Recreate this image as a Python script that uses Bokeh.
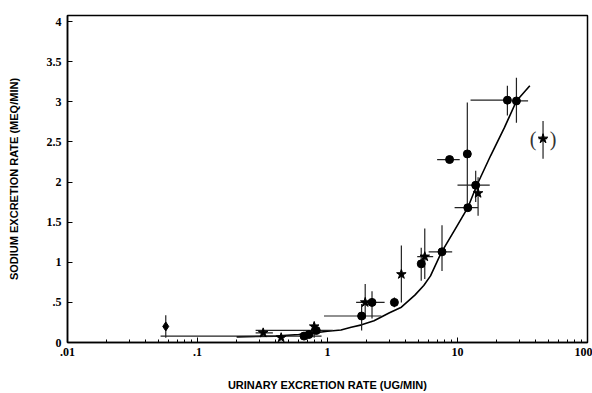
import numpy as np
from bokeh.plotting import figure
from bokeh.models import ColumnDataSource, FixedTicker, Range1d
from bokeh.core.properties import value
from bokeh.embed import file_html
from bokeh.resources import INLINE

# ---- data ----
pt_x = [0.057, 0.32, 0.44, 0.66, 0.72, 0.79, 0.82, 1.83, 1.95, 2.2, 3.27, 3.7,
        5.26, 5.6, 7.6, 8.69, 11.9, 12.0, 13.8, 14.4, 24.2, 28.4, 45.5]
pt_y = [0.20, 0.12, 0.06, 0.08, 0.10, 0.20, 0.15, 0.33, 0.50, 0.50, 0.50, 0.85,
        0.98, 1.07, 1.13, 2.28, 2.35, 1.68, 1.96, 1.86, 3.02, 3.01, 2.54]
pt_marker = ["diamond", "star", "star", "circle", "circle", "star", "circle", "circle",
             "star", "circle", "circle", "star", "circle", "star", "circle", "circle",
             "circle", "circle", "circle", "star", "circle", "circle", "star"]
nan = float("nan")
x_lo = [nan, 0.28, nan, 0.052, nan, nan, 0.28, 0.94, 1.66, 2.0, nan, nan,
        5.0, 4.9, 6.0, 6.97, nan, 9.5, 10.0, nan, 12.6, 28.4, 42.0]
x_hi = [nan, 0.38, nan, 0.9, nan, nan, 1.1, 2.6, 2.3, 2.75, nan, nan,
        5.6, 6.5, 9.1, 10.4, nan, 14.4, 17.7, nan, 24.2, 34.9, 49.0]
y_lo = [0.06, nan, nan, nan, nan, 0.06, nan, 0.15, 0.30, 0.30, 0.44, 0.50,
        0.77, 0.79, 0.89, nan, 1.73, nan, 1.75, 1.58, 2.83, 2.74, 2.29]
y_hi = [0.34, nan, nan, nan, nan, 0.25, nan, 0.48, 0.73, 0.64, 0.56, 1.21,
        1.18, 1.42, 1.46, nan, 2.99, nan, 2.14, 2.06, 3.20, 3.30, 2.76]

curve_x = [0.2, 0.4, 0.6, 0.84, 1.0, 1.27, 1.52, 1.83, 2.28, 3.0, 3.7, 4.7, 5.5,
           6.2, 7.5, 9.5, 12.0, 14.0, 18.0, 23.0, 28.4, 36.0]
curve_y = [0.07, 0.08, 0.10, 0.125, 0.14, 0.155, 0.19, 0.22, 0.27, 0.37, 0.44, 0.59,
           0.71, 0.83, 1.12, 1.40, 1.68, 1.95, 2.33, 2.68, 3.01, 3.20]

x_ticks = [0.01, 0.1, 1, 10, 100]
x_tick_labels = [".01", ".1", "1", "10", "100"]
y_ticks = [0, 0.5, 1, 1.5, 2, 2.5, 3, 3.5, 4]
y_tick_labels = ["0", ".5", "1", "1.5", "2", "2.5", "3", "3.5", "4"]

bracket_x = [45.5]
bracket_y = [2.54]

x_title = "URINARY EXCRETION RATE (UG/MIN)"
y_title = "SODIUM EXCRETION RATE (MEQ/MIN)"

# ---- figure ----
p = figure(width=592, height=393, x_axis_type="log",
           x_range=Range1d(0.01, 100), y_range=Range1d(0, 4.075),
           output_backend="svg", toolbar_location=None,
           min_border_left=67, min_border_right=5, min_border_top=15,
           min_border_bottom=51)
p.background_fill_color = "white"
p.border_fill_color = "white"
p.outline_line_color = "black"
p.outline_line_width = 1.5
p.xgrid.visible = False
p.ygrid.visible = False

minor = [d * m for d in [0.01, 0.1, 1, 10] for m in range(2, 10)]
xa = p.xaxis[0]
xa.ticker = FixedTicker(ticks=x_ticks, minor_ticks=minor)
xa.major_label_overrides = {t: l for t, l in zip(x_ticks, x_tick_labels)}
ya = p.yaxis[0]
ya.ticker = FixedTicker(ticks=y_ticks)
ya.major_label_overrides = {t: l for t, l in zip(y_ticks, y_tick_labels)}

for ax in (xa, ya):
    ax.axis_line_color = "black"
    ax.axis_line_width = 1.5
    ax.major_tick_line_color = "black"
    ax.major_tick_in = 5
    ax.major_tick_out = 0
    ax.minor_tick_line_color = "black"
    ax.minor_tick_in = 3
    ax.minor_tick_out = 0
    ax.major_label_text_font = "Liberation Serif"
    ax.major_label_text_font_style = "bold"
    ax.major_label_text_font_size = "12px"
    ax.major_label_text_color = "black"
    ax.axis_label_text_font = "Liberation Sans"
    ax.axis_label_text_font_style = "bold"
    ax.axis_label_text_font_size = "11px"
    ax.axis_label_text_color = "black"
ya.minor_tick_line_color = None
xa.axis_label = x_title
ya.axis_label = y_title
xa.major_label_standoff = 5
ya.major_label_standoff = 6
xa.axis_label_standoff = 20
ya.axis_label_standoff = 24

marker_size = {"circle": 8, "star": 10, "diamond": 9}
src = ColumnDataSource(dict(x=pt_x, y=pt_y, m=pt_marker, xlo=x_lo, xhi=x_hi,
                            ylo=y_lo, yhi=y_hi,
                            s=[marker_size[m] for m in pt_marker]))

p.line(curve_x, curve_y, line_color="black", line_width=1.6)
p.segment(x0="xlo", y0="y", x1="xhi", y1="y", source=src, line_color="#222222",
          line_width=1.2)
p.segment(x0="x", y0="ylo", x1="x", y1="yhi", source=src, line_color="#222222",
          line_width=1.2)
p.scatter(x="x", y="y", marker="m", size="s", source=src, fill_color="black",
          line_color="black")
for txt, off in (("(", -10), (")", 10)):
    p.text(x=bracket_x, y=bracket_y, text=[txt], text_align="center",
           text_baseline="middle", text_font=value("Liberation Serif"),
           text_font_size="20px", text_color="#333333", x_offset=off)

open("out.html", "w").write(file_html(p, INLINE))
